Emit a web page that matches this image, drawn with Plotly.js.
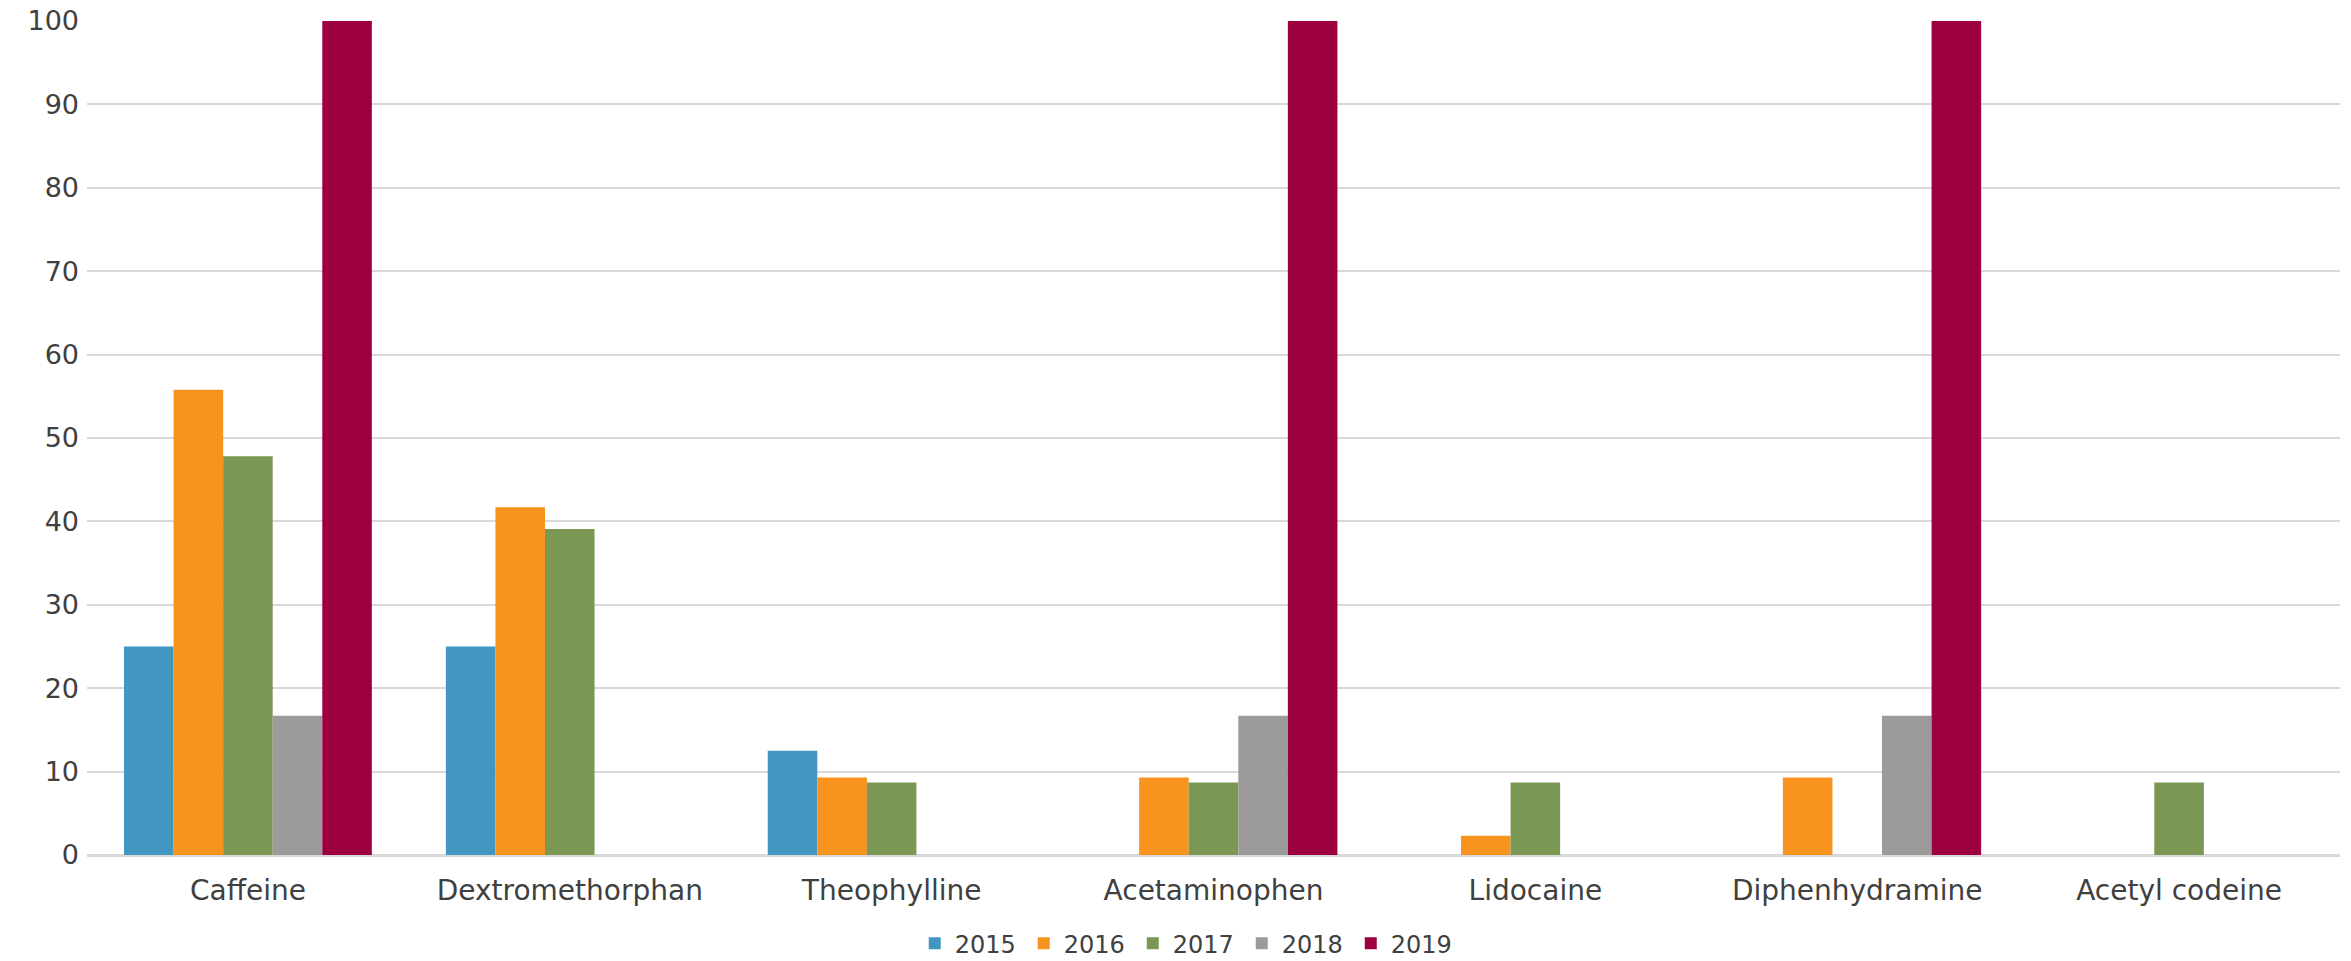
<!DOCTYPE html>
<html>
<head>
<meta charset="utf-8">
<script src="https://cdn.plot.ly/plotly-3.0.1.min.js"></script>
<style>html,body{margin:0;padding:0;background:#fff;}#chart{width:2351px;height:961px;}</style>
</head>
<body>
<div id="chart"></div>
<script>
const categories = ["Caffeine", "Dextromethorphan", "Theophylline", "Acetaminophen", "Lidocaine", "Diphenhydramine", "Acetyl codeine"];
const years = ["2015", "2016", "2017", "2018", "2019"];
const v2015 = [25, 25, 12.5, null, null, null, null];
const v2016 = [55.8, 41.7, 9.3, 9.3, 2.3, 9.3, null];
const v2017 = [47.8, 39.1, 8.7, 8.7, 8.7, null, 8.7];
const v2018 = [16.7, null, null, 16.7, null, 16.7, null];
const v2019 = [100, null, null, 100, null, 100, null];
const seriesValues = [v2015, v2016, v2017, v2018, v2019];
const colors = ["#4296C2", "#F7931E", "#7A9853", "#9B9B9B", "#9C003E"];

const traces = years.map((y, i) => ({
  type: "bar",
  name: y,
  x: categories,
  y: seriesValues[i],
  marker: {color: colors[i], line: {width: 0}},
  hoverinfo: "x+y+name"
}));

const layout = {
  width: 2351, height: 961,
  margin: {l: 87, r: 11, t: 21, b: 106, autoexpand: false},
  paper_bgcolor: "#fff", plot_bgcolor: "#fff",
  font: {family: "DejaVu Sans, sans-serif", size: 26, color: "#404040"},
  barmode: "group",
  bargap: 0.23,
  bargroupgap: 0,
  xaxis: {
    type: "category",
    showgrid: false,
    showline: true, linecolor: "#D9D9D9", linewidth: 2,
    ticks: "", ticklen: 0,
    ticklabelstandoff: 9,
    tickfont: {size: 28, color: "#404040"}
  },
  yaxis: {
    range: [0, 100],
    dtick: 10,
    showgrid: true, gridcolor: "#D9D9D9", gridwidth: 2,
    zeroline: true, zerolinecolor: "#D9D9D9", zerolinewidth: 2,
    showline: false,
    ticks: "", ticklabelstandoff: 7,
    tickfont: {size: 27, color: "#404040"}
  },
  legend: {
    orientation: "h",
    xref: "container", yref: "container",
    x: 0.505, xanchor: "center",
    y: 0.018, yanchor: "middle",
    font: {size: 24, color: "#404040"},
    itemwidth: 30,
    entrywidth: 64, entrywidthmode: "pixels",
    traceorder: "normal"
  },
  showlegend: true
};

Plotly.newPlot("chart", traces, layout, {displayModeBar: false, staticPlot: true});
</script>
</body>
</html>
